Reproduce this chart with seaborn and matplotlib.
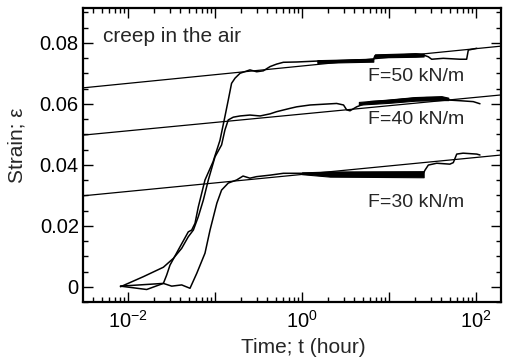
import numpy as np
import pandas as pd
import seaborn as sns
import matplotlib
matplotlib.use("Agg")
import matplotlib.pyplot as plt
from matplotlib.ticker import LogLocator, FixedLocator, MultipleLocator, FuncFormatter

# ---------------- data ----------------
t50 = [0.0082, 0.0255, 0.0278, 0.0304, 0.0396, 0.0493, 0.054, 0.0589, 0.0643, 0.0767, 0.095,
       0.114, 0.13, 0.142, 0.155, 0.17, 0.194, 0.252, 0.301, 0.359, 0.43, 0.51, 0.61, 0.87,
       1.48, 2.5, 4.64, 6.6, 6.9, 10.3, 20.8, 24.8, 28.3, 30.9, 42, 65.5, 78, 81.5, 102]
s50 = [0.0002, 0.0011, 0.0038, 0.0071, 0.0131, 0.018, 0.0186, 0.0208, 0.0262, 0.035, 0.041,
       0.048, 0.0558, 0.0612, 0.0667, 0.0684, 0.0700, 0.0711, 0.0705, 0.0708, 0.0722, 0.0730,
       0.0736, 0.0737, 0.0740, 0.0741, 0.0744, 0.0744, 0.0758, 0.0759, 0.0762, 0.0760, 0.0754,
       0.0746, 0.0749, 0.0746, 0.0746, 0.0776, 0.0782]

t40 = [0.0082, 0.015, 0.0255, 0.0332, 0.0414, 0.0493, 0.0564, 0.0643, 0.0734, 0.0838, 0.1,
       0.119, 0.13, 0.142, 0.162, 0.194, 0.252, 0.33, 0.43, 0.51, 0.73, 0.87, 1.24, 2.5, 3.0,
       3.26, 3.56, 4.25, 6.05, 9.4, 19, 27, 42, 50, 65.5, 93, 111]
s40 = [0.0, 0.0033, 0.0064, 0.0093, 0.0126, 0.0164, 0.0186, 0.023, 0.0284, 0.035, 0.0426,
       0.0465, 0.0514, 0.0547, 0.0556, 0.056, 0.0563, 0.056, 0.0567, 0.0574, 0.0585, 0.059,
       0.0596, 0.0601, 0.0596, 0.058, 0.0577, 0.059, 0.0607, 0.061, 0.0618, 0.062, 0.062,
       0.0612, 0.061, 0.0607, 0.060]

t30 = [0.0082, 0.0164, 0.0255, 0.0318, 0.0414, 0.0516, 0.0617, 0.0767, 0.0877, 0.105, 0.119,
       0.142, 0.177, 0.21, 0.252, 0.30, 0.43, 0.61, 1.24, 5.07, 24.8, 26, 28.3, 35.3, 50,
       54.8, 60, 71, 102, 111]
s30 = [0.0002, -0.0009, 0.0011, 0.0002, 0.0006, -0.0005, 0.0044, 0.011, 0.0186, 0.0274,
       0.0317, 0.034, 0.035, 0.0363, 0.0356, 0.0361, 0.0366, 0.0372, 0.0372, 0.0372, 0.0372,
       0.0383, 0.0399, 0.0405, 0.0402, 0.0407, 0.0435, 0.0438, 0.0435, 0.0432]

# noisy (dense) portions of the records: time, lower and upper strain envelope
band50a_t = [1.5, 3.0, 6.6]
band50a_lo = [0.0734, 0.0736, 0.0738]
band50a_hi = [0.0743, 0.0745, 0.0748]
band50b_t = [6.9, 12, 20, 25]
band50b_lo = [0.0752, 0.0753, 0.0754, 0.0755]
band50b_hi = [0.0762, 0.0764, 0.0766, 0.0764]
band40_t = [4.5, 10, 20, 40, 48]
band40_lo = [0.0597, 0.0603, 0.0610, 0.0612, 0.0612]
band40_hi = [0.0606, 0.0614, 0.0622, 0.0625, 0.0620]
band30_t = [1.0, 2.1, 25]
band30_lo = [0.0369, 0.0361, 0.0359]
band30_hi = [0.0375, 0.0378, 0.0379]

# fitted creep lines (straight in log time)
fit_t = [0.003, 195]
fit50 = [0.0652, 0.0789]
fit40 = [0.0497, 0.0629]
fit30 = [0.0298, 0.0432]

labels = ["F=50 kN/m", "F=40 kN/m", "F=30 kN/m"]
label_t = [5.7, 5.7, 5.7]
label_s = [0.0691, 0.0547, 0.0276]

xticks_major = [1e-3, 1e-2, 1e-1, 1e0, 1e1, 1e2, 1e3]
xlabeled = [1e-2, 1e0, 1e2]
yticks = [0, 0.02, 0.04, 0.06, 0.08]
ytick_labels = ["0", "0.02", "0.04", "0.06", "0.08"]

# ---------------- plot ----------------
sns.set_theme(style="ticks")
plt.rcParams["font.family"] = ["Liberation Sans", "DejaVu Sans"]
plt.rcParams["mathtext.fontset"] = "custom"
plt.rcParams["mathtext.rm"] = "Liberation Sans"
plt.rcParams["mathtext.it"] = "Liberation Sans:italic"

fig = plt.figure(figsize=(5.06, 3.58), dpi=100)
ax = fig.add_axes([83 / 506, 1 - 302 / 358, (501 - 83) / 506, (302 - 8) / 358])

for tt, ss in [(t50, s50), (t40, s40), (t30, s30)]:
    sns.lineplot(x=tt, y=ss, ax=ax, color="black", lw=1.1, sort=False, estimator=None)

for bt, lo, hi in [(band50a_t, band50a_lo, band50a_hi), (band50b_t, band50b_lo, band50b_hi),
                   (band40_t, band40_lo, band40_hi), (band30_t, band30_lo, band30_hi)]:
    ax.fill_between(bt, lo, hi, color="black", lw=0.8)

for fy in [fit50, fit40, fit30]:
    sns.lineplot(x=fit_t, y=fy, ax=ax, color="black", lw=0.9, sort=False, estimator=None)

ax.set_xscale("log")
ax.set_xlim(0.00304, 193.6)
ax.set_ylim(-0.005, 0.0914)

ax.xaxis.set_major_locator(FixedLocator(xticks_major))
ax.xaxis.set_minor_locator(LogLocator(base=10, subs=np.arange(2, 10), numticks=20))
ax.xaxis.set_major_formatter(FuncFormatter(
    lambda v, p: r"$\mathdefault{10^{%d}}$" % round(np.log10(v))
    if any(abs(v - L) < 1e-9 * L for L in xlabeled) else ""))
ax.yaxis.set_major_locator(FixedLocator(yticks))
ax.set_yticklabels(ytick_labels)
ax.yaxis.set_minor_locator(MultipleLocator(0.005))

ax.tick_params(which="both", direction="in", top=True, right=True, colors="black",
               labelsize=14.5, width=1.0)
ax.tick_params(which="major", length=7)
ax.tick_params(which="minor", length=3.5)
ax.tick_params(axis="y", which="major", pad=3)
ax.tick_params(axis="x", which="major", pad=6)
for sp in ax.spines.values():
    sp.set_linewidth(1.6)
    sp.set_color("black")

ax.set_xlabel("Time; t (hour)", fontsize=15)
ax.set_ylabel("Strain; ε", fontsize=15)
ax.xaxis.set_label_coords(0.526, -0.122)
ax.yaxis.set_label_coords(-0.134, 0.534)

ax.text(0.00516, 0.0819, "creep in the air", fontsize=15, va="center", ha="left")
for lab, lx, ly in zip(labels, label_t, label_s):
    ax.text(lx, ly, lab, fontsize=14, va="center", ha="left")

fig.savefig("out.png", dpi=100, facecolor="white")
